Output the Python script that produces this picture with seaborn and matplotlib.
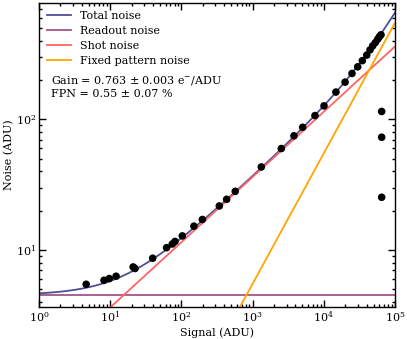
import numpy as np
import pandas as pd
import matplotlib
matplotlib.use('Agg')
import matplotlib.pyplot as plt
import seaborn as sns

# measured points (signal, noise) in ADU
signal = [4.6, 8.2, 9.7, 12.1, 21, 22.3, 39.5, 62, 74.5, 81.3, 103, 150, 197, 341, 432, 571,
          1325, 2530, 3810, 5050, 7520, 10070, 14800, 19900, 24900, 29900, 34800, 40100,
          44600, 48600, 53000, 57200, 60300, 63600, 65000, 65000, 65000]
noise = [5.45, 5.85, 6.03, 6.28, 7.4, 7.2, 8.63, 10.4, 11.1, 11.6, 12.8, 15.2, 17.1, 21.7,
         24.4, 28.1, 43.2, 59.8, 74.8, 87, 107, 127, 162, 193, 225, 253, 282, 311, 341, 366,
         388, 412, 430, 445, 115, 73, 25.3]

# fitted model parameters
gain = 0.763
readout = 4.5
fpn = 0.0055

# plain matplotlib look, ticks inside on all four sides
plt.rcParams.update({
    'font.family': ['DejaVu Serif'],
    'mathtext.fontset': 'dejavuserif',
    'xtick.direction': 'in', 'ytick.direction': 'in',
    'xtick.top': True, 'ytick.right': True,
    'xtick.bottom': True, 'ytick.left': True,
    'xtick.major.size': 5, 'ytick.major.size': 5,
    'xtick.minor.size': 2.5, 'ytick.minor.size': 2.5,
    'xtick.major.width': 1, 'ytick.major.width': 1,
    'xtick.minor.width': 1, 'ytick.minor.width': 1,
    'xtick.labelsize': 8, 'ytick.labelsize': 8,
    'axes.linewidth': 1.0,
})

s = np.logspace(0, 5, 400)
model = pd.DataFrame({
    'Signal': s,
    'Total noise': np.sqrt(readout**2 + s / gain + (fpn * s)**2),
    'Readout noise': np.full_like(s, readout),
    'Shot noise': np.sqrt(s / gain),
    'Fixed pattern noise': fpn * s,
})
colors = {'Total noise': '#4f4f96', 'Readout noise': '#a3548a',
          'Shot noise': '#ff6464', 'Fixed pattern noise': '#ffa500'}

fig = plt.figure(figsize=(4.07, 3.39), dpi=100)
ax = fig.add_axes([39/407, 1 - 307/339, 356/407, 304/339])
ax.set_xscale('log')
ax.set_yscale('log')
for name in ['Total noise', 'Readout noise', 'Shot noise', 'Fixed pattern noise']:
    sns.lineplot(data=model, x='Signal', y=name, ax=ax, color=colors[name], lw=1.3, label=name)

pts = pd.DataFrame({'Signal': signal, 'Noise': noise})
sns.scatterplot(data=pts, x='Signal', y='Noise', ax=ax, color='black', s=30, edgecolor='none', zorder=5)

ax.set_xlim(1, 1e5)
ax.set_ylim(3.65, 780)
ax.set_xlabel('Signal (ADU)', fontsize=8, labelpad=2)
ax.set_ylabel('Noise (ADU)', fontsize=8, labelpad=1)
ax.tick_params(which='both', pad=2)

ax.legend(loc='upper left', frameon=False, fontsize=8, handlelength=2.2, borderaxespad=0.3,
          labelspacing=0.45)
ax.text(0.035, 0.765, 'Gain = 0.763 ± 0.003 e$^{-}$/ADU\nFPN = 0.55 ± 0.07 %',
        transform=ax.transAxes, fontsize=8, va='top', linespacing=1.15)

fig.savefig('out.png', dpi=100)
